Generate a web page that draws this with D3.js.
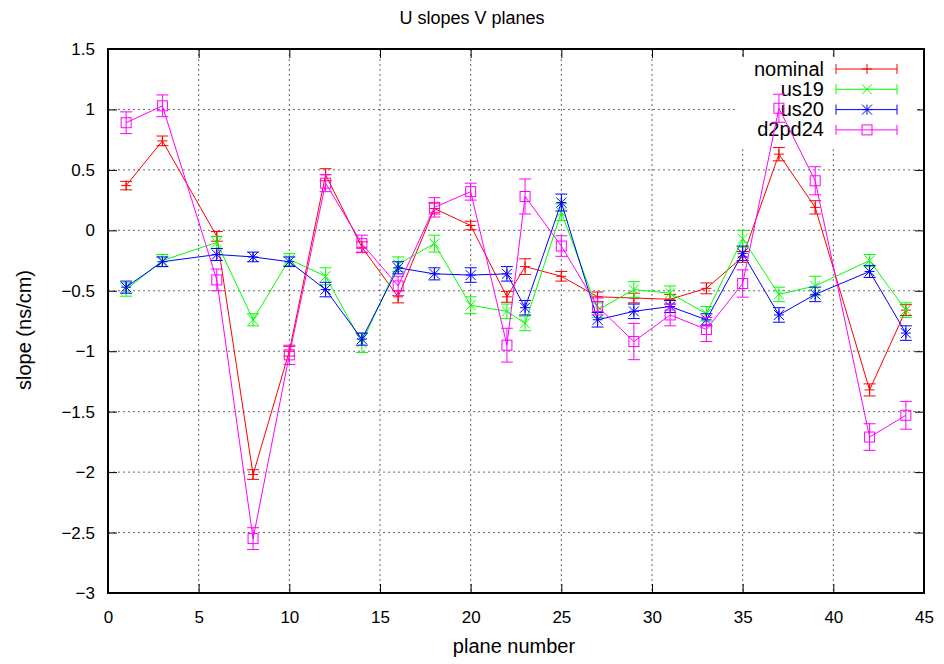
<!DOCTYPE html>
<html>
<head>
<meta charset="utf-8">
<script src="https://cdn.jsdelivr.net/npm/d3@7"></script>
<style>
  body { margin: 0; background: #fff; }
  svg text { font-family: "Liberation Sans", Arial, Helvetica, sans-serif; fill: #000; }
</style>
</head>
<body>
<svg id="chart" width="944" height="664"></svg>
<script>
// --- DATOS ---
const planes = [1, 3, 6, 8, 10, 12, 14, 16, 18, 20, 22, 23, 25, 27, 29, 31, 33, 35, 37, 39, 42, 44];

const nominal    = [0.37, 0.74, -0.05, -2.02, -1.00, 0.46, -0.14, -0.55, 0.18, 0.04, -0.55, -0.30, -0.38, -0.55, -0.56, -0.57, -0.48, -0.22, 0.63, 0.19, -1.32, -0.66];
const nominalErr = [0.035, 0.04, 0.04, 0.04, 0.04, 0.05, 0.045, 0.05, 0.045, 0.035, 0.045, 0.065, 0.04, 0.04, 0.04, 0.04, 0.045, 0.045, 0.055, 0.055, 0.05, 0.045];

const us19    = [-0.49, -0.25, -0.10, -0.74, -0.24, -0.38, -0.93, -0.28, -0.11, -0.62, -0.67, -0.77, 0.15, -0.66, -0.49, -0.52, -0.69, -0.07, -0.53, -0.46, -0.25, -0.66];
const us19Err = [0.055, 0.05, 0.05, 0.05, 0.05, 0.07, 0.08, 0.06, 0.07, 0.07, 0.06, 0.06, 0.07, 0.06, 0.065, 0.06, 0.06, 0.07, 0.06, 0.08, 0.05, 0.06];

const us20    = [-0.47, -0.26, -0.20, -0.22, -0.26, -0.49, -0.90, -0.31, -0.36, -0.37, -0.36, -0.64, 0.23, -0.74, -0.67, -0.63, -0.74, -0.19, -0.70, -0.53, -0.34, -0.85];
const us20Err = [0.05, 0.04, 0.05, 0.04, 0.04, 0.06, 0.05, 0.05, 0.05, 0.06, 0.06, 0.06, 0.07, 0.06, 0.06, 0.05, 0.05, 0.06, 0.06, 0.06, 0.05, 0.06];

const d2pd24    = [0.89, 1.03, -0.41, -2.55, -1.03, 0.39, -0.11, -0.46, 0.19, 0.32, -0.95, 0.28, -0.13, -0.63, -0.92, -0.70, -0.82, -0.44, 1.01, 0.41, -1.71, -1.53];
const d2pd24Err = [0.09, 0.09, 0.09, 0.09, 0.08, 0.07, 0.07, 0.08, 0.08, 0.07, 0.14, 0.145, 0.085, 0.07, 0.15, 0.09, 0.1, 0.113, 0.116, 0.116, 0.11, 0.115];

const xTicks = [0, 5, 10, 15, 20, 25, 30, 35, 40, 45];
const yTicks = [-3, -2.5, -2, -1.5, -1, -0.5, 0, 0.5, 1, 1.5];

const SERIES = [
  { name: "nominal", color: "#ff0000", marker: "plus",   vals: nominal, errs: nominalErr },
  { name: "us19",    color: "#00ff00", marker: "cross",  vals: us19,    errs: us19Err },
  { name: "us20",    color: "#0000ff", marker: "star",   vals: us20,    errs: us20Err },
  { name: "d2pd24",  color: "#ff00ff", marker: "square", vals: d2pd24,  errs: d2pd24Err }
];

// --- ESCALAS ---
const L = 108, R = 924, T = 49, B = 593;
const x = d3.scaleLinear().domain([0, 45]).range([L, R]);
const y = d3.scaleLinear().domain([-3, 1.5]).range([B, T]);
const fmt = d3.format("~g");

const svg = d3.select("#chart");

// grid (dotted)
const grid = svg.append("g").attr("stroke", "#666").attr("stroke-width", 1).attr("stroke-dasharray", "2,3");
xTicks.slice(1, -1).forEach(t => {
  grid.append("line").attr("x1", x(t)).attr("x2", x(t)).attr("y1", T).attr("y2", B);
});
yTicks.slice(1, -1).forEach(t => {
  grid.append("line").attr("x1", L).attr("x2", R).attr("y1", y(t)).attr("y2", y(t));
});

// axes with inward ticks, mirrored
svg.append("g").attr("transform", `translate(0,${B})`)
  .call(d3.axisBottom(x).tickValues(xTicks).tickSize(-9).tickPadding(18).tickFormat(fmt));
svg.append("g").attr("transform", `translate(0,${T})`)
  .call(d3.axisTop(x).tickValues(xTicks).tickSize(-9).tickFormat(""));
svg.append("g").attr("transform", `translate(${L},0)`)
  .call(d3.axisLeft(y).tickValues(yTicks).tickSize(-9).tickPadding(13).tickFormat(fmt));
svg.append("g").attr("transform", `translate(${R},0)`)
  .call(d3.axisRight(y).tickValues(yTicks).tickSize(-9).tickFormat(""));

svg.selectAll(".domain").remove();
svg.selectAll(".tick line").attr("stroke", "#000").attr("stroke-width", 1);
svg.selectAll(".tick text").style("font-size", "17px").attr("font-family", null);

svg.append("rect")
  .attr("x", L).attr("y", T).attr("width", R - L).attr("height", B - T)
  .attr("fill", "none").attr("stroke", "#000").attr("stroke-width", 2);

// titles
svg.append("text").attr("x", 472).attr("y", 24).attr("text-anchor", "middle")
  .style("font-size", "18px").text("U slopes V planes");
svg.append("text").attr("x", 514).attr("y", 653).attr("text-anchor", "middle")
  .style("font-size", "20px").text("plane number");
svg.append("text").attr("transform", "translate(31,330) rotate(-90)").attr("text-anchor", "middle")
  .style("font-size", "20px").text("slope (ns/cm)");

// --- MARCADORES ---
function drawMarker(g, kind, cx, cy, color) {
  const s = 5;
  const line = (x1, y1, x2, y2) => g.append("line")
    .attr("x1", x1).attr("y1", y1).attr("x2", x2).attr("y2", y2)
    .attr("stroke", color).attr("stroke-width", 1);
  if (kind === "plus" || kind === "star") {
    line(cx - s, cy, cx + s, cy);
    line(cx, cy - s, cx, cy + s);
  }
  if (kind === "cross" || kind === "star") {
    line(cx - s, cy - s, cx + s, cy + s);
    line(cx - s, cy + s, cx + s, cy - s);
  }
  if (kind === "square") {
    g.append("rect").attr("x", cx - s).attr("y", cy - s)
      .attr("width", 2 * s).attr("height", 2 * s)
      .attr("fill", "none").attr("stroke", color).attr("stroke-width", 1);
  }
}

// --- LEYENDA ---
const key = svg.append("g");
key.append("rect").attr("x", 735).attr("y", 57).attr("width", 182).attr("height", 89).attr("fill", "#fff");
SERIES.forEach((s, i) => {
  const ky = 69 + i * 20.3;
  key.append("text").attr("x", 824).attr("y", ky + 6.5).attr("text-anchor", "end")
    .style("font-size", "20px").text(s.name);
  const kg = key.append("g");
  kg.append("line").attr("x1", 836).attr("x2", 897).attr("y1", ky).attr("y2", ky)
    .attr("stroke", s.color).attr("stroke-width", 1);
  [836, 897].forEach(ex => kg.append("line").attr("x1", ex).attr("x2", ex)
    .attr("y1", ky - 5).attr("y2", ky + 5).attr("stroke", s.color));
  drawMarker(kg, s.marker, 867, ky, s.color);
});

// --- SERIES ---
SERIES.forEach(s => {
  const pts = planes.map((p, i) => ({ p, v: s.vals[i], e: s.errs[i] }));
  const g = svg.append("g");
  g.append("path")
    .attr("d", d3.line().x(d => x(d.p)).y(d => y(d.v))(pts))
    .attr("fill", "none").attr("stroke", s.color).attr("stroke-width", 1);
  pts.forEach(d => {
    const cx = x(d.p), y1 = y(d.v + d.e), y2 = y(d.v - d.e);
    g.append("line").attr("x1", cx).attr("x2", cx).attr("y1", y1).attr("y2", y2).attr("stroke", s.color);
    g.append("line").attr("x1", cx - 6).attr("x2", cx + 6).attr("y1", y1).attr("y2", y1).attr("stroke", s.color);
    g.append("line").attr("x1", cx - 6).attr("x2", cx + 6).attr("y1", y2).attr("y2", y2).attr("stroke", s.color);
    drawMarker(g, s.marker, cx, y(d.v), s.color);
  });
});
</script>
</body>
</html>
